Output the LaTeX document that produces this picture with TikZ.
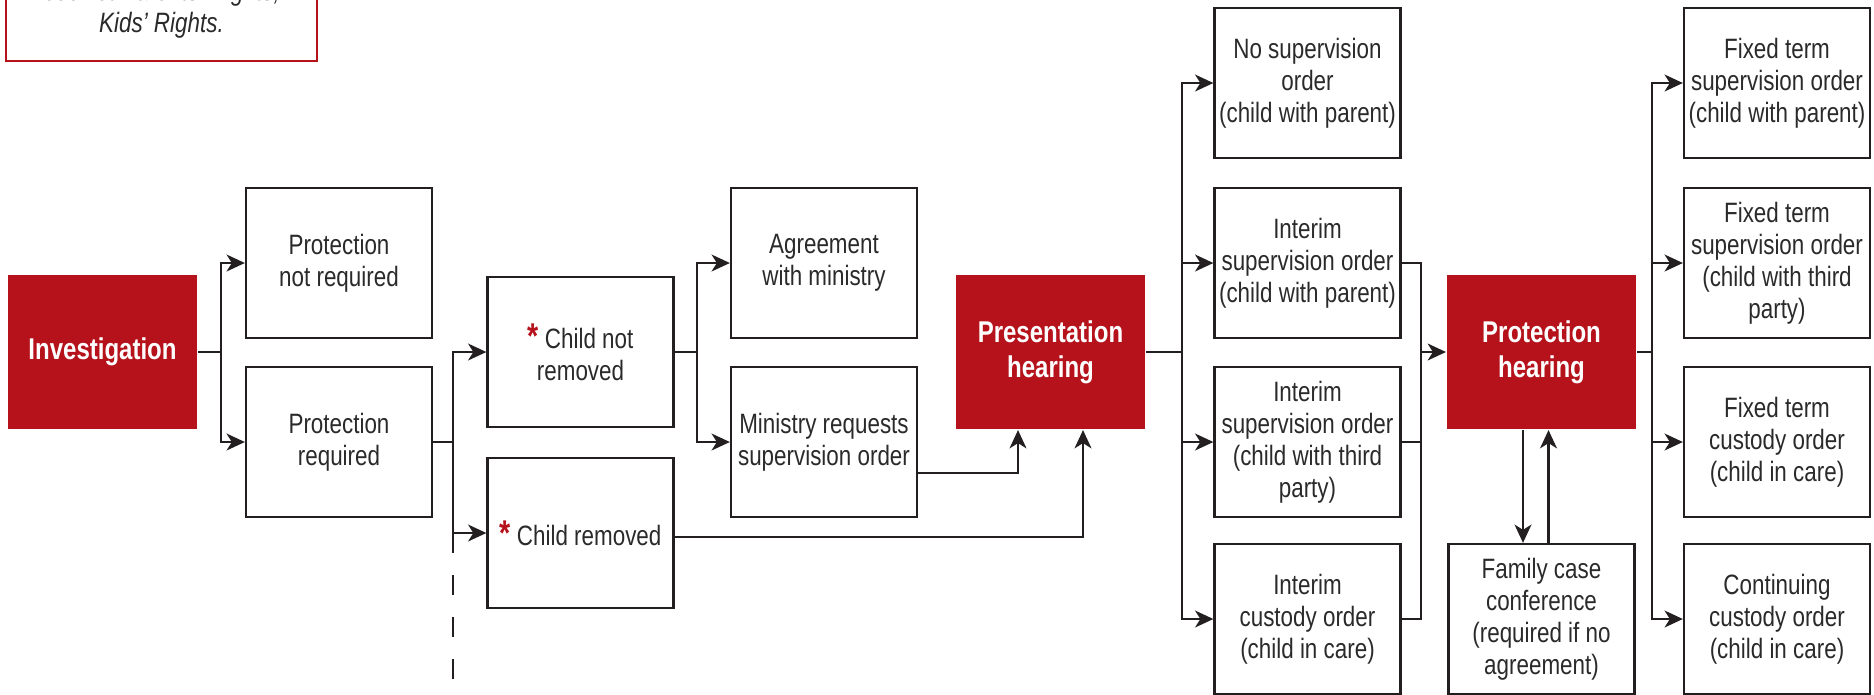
\documentclass[tikz,border=0pt]{standalone}
\usepackage{fontspec}
\setmainfont{Liberation Sans}[FakeStretch=0.8]
\usepackage{tikz}
\usetikzlibrary{arrows.meta}
\definecolor{boxred}{HTML}{B5121B}
\definecolor{textgray}{HTML}{2A2A2A}
\definecolor{linegray}{HTML}{231F20}
\newcommand{\redstar}{{\color{boxred}\fontsize{10.2}{9.1}\selectfont\bfseries*}}
\begin{document}
\begin{tikzpicture}[x=0.1mm, y=-0.1mm, line width=0.6pt, linegray,
  box/.style={draw=linegray, line width=0.65pt, minimum width=18.6mm, minimum height=15mm, inner sep=1pt, align=center, text=textgray, font=\fontsize{7.97}{9.1}\selectfont},
  redbox/.style={fill=boxred, minimum width=18.9mm, minimum height=15.4mm, inner sep=1pt, align=center, text=white, font=\bfseries\fontsize{8.54}{9.96}\selectfont},
  notebox/.style={draw=boxred, line width=0.7pt, minimum width=31.1mm, minimum height=10.4mm, inner sep=1pt, align=center, text=textgray, font=\itshape\fontsize{7.97}{9.1}\selectfont},
  arr/.style={-{Stealth[length=5.2pt, width=4.8pt, inset=1.5pt]}}]
     \clip (0,0) rectangle (1874,694);

     \node[notebox] (note) at (161.5,9) {booklet Parents’ Rights,\\Kids’ Rights.};

     \node[redbox] (inv) at (102.5,352) {Investigation};
     \node[box] (pnr) at (339,263) {Protection\\not required};
     \node[box] (pr) at (339,442) {Protection\\required};
     \node[box] (cnr) at (580.5,352) {\redstar{} Child not\\removed};
     \node[box] (cr) at (580.5,533) {\redstar{} Child removed};
     \node[box] (agr) at (824,263) {Agreement\\with ministry};
     \node[box] (msr) at (824,442) {Ministry requests\\supervision order};
     \node[redbox] (pres) at (1050.5,352) {Presentation\\hearing};
     \node[box] (nso) at (1307.5,83) {No supervision\\order\\(child with parent)};
     \node[box] (isp) at (1307.5,263) {Interim\\supervision order\\(child with parent)};
     \node[box] (ist) at (1307.5,442) {Interim\\supervision order\\(child with third\\party)};
     \node[box] (icu) at (1307.5,619) {Interim\\custody order\\(child in care)};
     \node[redbox] (prot) at (1541.5,352) {Protection\\hearing};
     \node[box] (fcc) at (1541.5,619) {Family case\\conference\\(required if no\\agreement)};
     \node[box] (fsp) at (1777,83) {Fixed term\\supervision order\\(child with parent)};
     \node[box] (fst) at (1777,263) {Fixed term\\supervision order\\(child with third\\party)};
     \node[box] (fcu) at (1777,442) {Fixed term\\custody order\\(child in care)};
     \node[box] (ccu) at (1777,619) {Continuing\\custody order\\(child in care)};

     \draw (inv.east) -- ++(23,0) coordinate (f1);
     \draw[arr] (f1) |- (pnr);
     \draw[arr] (f1) |- (pr);

     \draw (pr.east) -- ++(20,0) coordinate (f2);
     \draw[arr] (f2) |- (cnr);
     \draw[arr] (f2) |- (cr);
     \draw (f2) -- ++(0,111) coordinate (f2end);
     \draw[dash pattern=on 2mm off 2.2mm, dash phase=2mm] (f2end) -- ++(0,126);

     \draw (cnr.east) -- ++(22,0) coordinate (f3);
     \draw[arr] (f3) |- (agr);
     \draw[arr] (f3) |- (msr);

     \draw[arr] ([yshift=-3.1mm]msr.east) -| ([xshift=-3.25mm]pres.south);
     \draw[arr] ([yshift=-0.4mm]cr.east) -| ([xshift=3.25mm]pres.south);

     \draw (pres.east) -- ++(36,0) coordinate (f5);
     \draw[arr] (f5) |- (nso);
     \draw[arr] (f5) |- (isp);
     \draw[arr] (f5) |- (ist);
     \draw[arr] (f5) |- (icu);

     \draw (isp.east) -- ++(19,0) coordinate (f6) |- (icu.east);
     \draw (ist.east) -- (ist.east -| f6);
     \draw[arr] (f6 |- prot.west) -- (prot.west);

     \draw (prot.east) -- ++(15,0) coordinate (f7);
     \draw[arr] (f7) |- (fsp);
     \draw[arr] (f7) |- (fst);
     \draw[arr] (f7) |- (fcu);
     \draw[arr] (f7) |- (ccu);

     \coordinate (pdown) at ([xshift=-1.85mm]prot.south);
     \coordinate (pup) at ([xshift=0.7mm]fcc.north);
     \draw[arr] (pdown) -- (pdown |- fcc.north);
     \draw[arr] (pup) -- (pup |- prot.south);
\end{tikzpicture}
\end{document}
